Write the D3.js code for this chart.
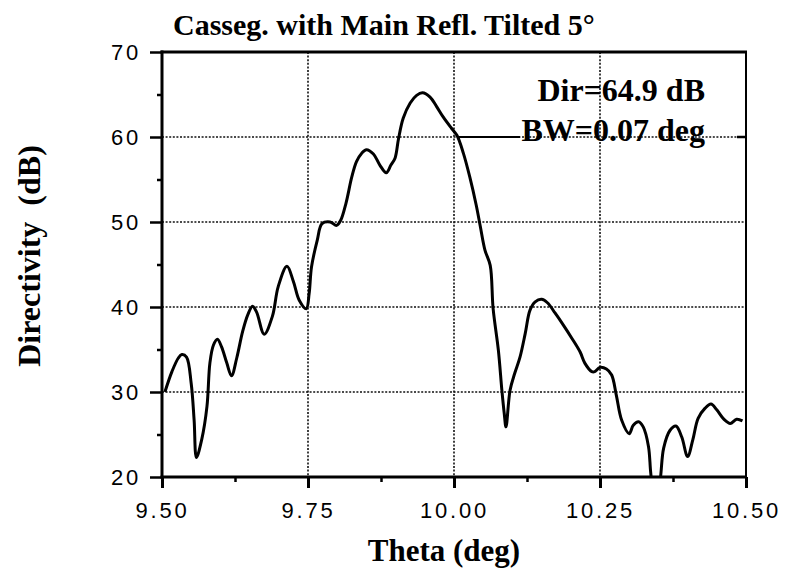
<!DOCTYPE html>
<html>
<head>
<meta charset="utf-8">
<script src="https://cdn.jsdelivr.net/npm/d3@7"></script>
<style>
  body { margin: 0; background: #fff; }
  svg { display: block; }
  .tick-label { font-family: "Liberation Sans", Arial, sans-serif; font-size: 22px; letter-spacing: 2.8px; fill: #000; }
  .serif { font-family: "Liberation Serif", "Times New Roman", serif; font-weight: bold; fill: #000; }
</style>
</head>
<body>
<svg id="chart" width="789" height="573"></svg>
<script>
// directivity pattern
var theta = [9.505, 9.517, 9.528, 9.534, 9.542, 9.550, 9.555, 9.559, 9.568, 9.577,
  9.582, 9.588, 9.595, 9.602, 9.611, 9.619, 9.628, 9.638, 9.647, 9.655,
  9.662, 9.675, 9.689, 9.699, 9.714, 9.725, 9.735, 9.747, 9.752, 9.756,
  9.766, 9.774, 9.788, 9.799, 9.806, 9.815, 9.825, 9.833, 9.842, 9.850,
  9.862, 9.873, 9.884, 9.892, 9.899, 9.905, 9.913, 9.925, 9.936, 9.946,
  9.959, 9.970, 9.982, 9.996, 10.005, 10.016, 10.027, 10.038, 10.045, 10.053,
  10.062, 10.067, 10.076, 10.082, 10.086, 10.089, 10.096, 10.104, 10.113, 10.122,
  10.130, 10.139, 10.150, 10.160, 10.173, 10.187, 10.202, 10.216, 10.224, 10.236,
  10.241, 10.250, 10.261, 10.270, 10.278, 10.287, 10.300, 10.307, 10.316, 10.324,
  10.333, 10.337, 10.342, 10.350, 10.354, 10.359, 10.370, 10.380, 10.390, 10.400,
  10.409, 10.418, 10.430, 10.440, 10.450, 10.462, 10.473, 10.484, 10.494];
var directivity = [30.0, 32.4, 34.0, 34.4, 34.1, 31.0, 26.7, 22.3, 24.4, 28.3,
  33.4, 35.5, 36.2, 35.3, 33.4, 31.9, 34.0, 37.1, 39.1, 40.1,
  39.4, 36.8, 38.9, 42.4, 44.8, 43.0, 40.8, 39.8, 41.6, 44.7,
  47.9, 49.8, 50.0, 49.6, 50.2, 52.2, 55.3, 57.1, 58.1, 58.5,
  58.0, 56.7, 55.8, 56.7, 57.5, 59.8, 62.2, 64.0, 64.9, 65.2,
  64.7, 63.6, 62.3, 61.0, 60.2, 58.1, 55.3, 52.0, 49.5, 46.7,
  44.9, 39.8, 34.9, 30.2, 27.5, 25.9, 30.2, 32.2, 34.1, 36.9,
  39.6, 40.6, 40.9, 40.5, 39.3, 37.9, 36.3, 34.7, 33.4, 32.4,
  32.4, 32.9, 32.7, 32.0, 29.6, 26.7, 25.1, 26.1, 26.5, 25.9,
  23.6, 20.4, 18.0, 18.0, 20.2, 23.4, 25.5, 26.0, 24.7, 22.4,
  24.4, 26.9, 28.1, 28.6, 27.9, 26.8, 26.3, 26.8, 26.6];

var xTicks = [9.50, 9.75, 10.00, 10.25, 10.50];
var xMinor = [9.625, 9.875, 10.125, 10.375];
var yTicks = [20, 30, 40, 50, 60, 70];
var yMinor = [25, 35, 45, 55, 65];
var xGrid = [9.75, 10.00, 10.25];
var yGrid = [30, 40, 50, 60];

var titleText = "Casseg. with Main Refl. Tilted 5°";
var xLabel = "Theta (deg)";
var yLabel = "Directivity  (dB)";
var notes = ["Dir=64.9 dB", "BW=0.07 deg"];

// plot box (window.top is read-only, so no bare "top")
var pL = 162, pR = 746, pT = 52, pB = 477;

var svg = d3.select("#chart");

var x = d3.scaleLinear().domain([9.5, 10.5]).range([pL, pR]);
var y = d3.scaleLinear().domain([20, 70]).range([pB, pT]);

svg.append("defs").append("clipPath").attr("id", "plot")
  .append("rect").attr("x", pL).attr("y", pT)
  .attr("width", pR - pL).attr("height", pB - pT);

// dotted grid
var grid = svg.append("g").attr("stroke", "#111").attr("stroke-width", 1.6)
  .attr("stroke-dasharray", "2,1.6");
grid.selectAll("line.v").data(xGrid).enter().append("line")
  .attr("x1", d => x(d)).attr("x2", d => x(d))
  .attr("y1", pT).attr("y2", pB);
grid.selectAll("line.h").data(yGrid).enter().append("line")
  .attr("x1", pL).attr("x2", pR)
  .attr("y1", d => y(d)).attr("y2", d => y(d));

// solid piece before the BW note
svg.append("line")
  .attr("x1", 458).attr("x2", 520)
  .attr("y1", y(60)).attr("y2", y(60))
  .attr("stroke", "#000").attr("stroke-width", 2.2);

// axes
var xAxis = d3.axisBottom(x).tickValues(xTicks).tickSize(11)
  .tickFormat(d3.format(".2f"));
var gx = svg.append("g").attr("transform", "translate(0," + pB + ")").call(xAxis);
gx.select(".domain").remove();
gx.selectAll(".tick line").attr("stroke-width", 3);
gx.selectAll(".tick text").attr("class", "tick-label").attr("dy", null).attr("y", 41);
svg.append("g").attr("transform", "translate(0," + pB + ")")
  .call(d3.axisBottom(x).tickValues(xMinor).tickSize(5).tickFormat(""))
  .call(g => g.select(".domain").remove())
  .selectAll("line").attr("stroke-width", 2.5);

var yAxis = d3.axisLeft(y).tickValues(yTicks).tickSize(12).tickPadding(9);
var gy = svg.append("g").attr("transform", "translate(" + pL + ",0)").call(yAxis);
gy.select(".domain").remove();
gy.selectAll(".tick line").attr("stroke-width", 2.5);
gy.selectAll(".tick text").attr("class", "tick-label");
svg.append("g").attr("transform", "translate(" + pL + ",0)")
  .call(d3.axisLeft(y).tickValues(yMinor).tickSize(5).tickFormat(""))
  .call(g => g.select(".domain").remove())
  .selectAll("line").attr("stroke-width", 2.5);

// inward tick on the right at 60
svg.append("line").attr("x1", pR - 9).attr("x2", pR)
  .attr("y1", y(60)).attr("y2", y(60))
  .attr("stroke", "#000").attr("stroke-width", 2.5);

// frame
svg.append("line").attr("x1", pL).attr("x2", pL).attr("y1", pT - 1.5).attr("y2", pB + 1.5)
  .attr("stroke", "#000").attr("stroke-width", 3);
svg.append("line").attr("x1", pL - 1.5).attr("x2", pR + 1).attr("y1", pB).attr("y2", pB)
  .attr("stroke", "#000").attr("stroke-width", 3);
svg.append("line").attr("x1", pL - 1.5).attr("x2", pR + 1).attr("y1", pT).attr("y2", pT)
  .attr("stroke", "#000").attr("stroke-width", 3);
svg.append("line").attr("x1", pR).attr("x2", pR).attr("y1", pT).attr("y2", pB)
  .attr("stroke", "#000").attr("stroke-width", 2);

// curve
var pts = theta.map((t, i) => [t, directivity[i]]);
var line = d3.line().x(d => x(d[0])).y(d => y(d[1])).curve(d3.curveCatmullRom.alpha(0.5));
svg.append("path").datum(pts)
  .attr("clip-path", "url(#plot)")
  .attr("d", line)
  .attr("fill", "none").attr("stroke", "#000")
  .attr("stroke-width", 3).attr("stroke-linejoin", "round");

// texts
svg.append("text").attr("class", "serif").attr("x", 173).attr("y", 35)
  .attr("font-size", 30).text(titleText);

svg.append("text").attr("class", "serif").attr("x", 444).attr("y", 561)
  .attr("text-anchor", "middle").attr("font-size", 31).text(xLabel);

svg.append("text").attr("class", "serif")
  .attr("transform", "translate(40,256) rotate(-90)")
  .attr("text-anchor", "middle").attr("font-size", 32)
  .style("white-space", "pre").text(yLabel);

svg.selectAll("text.note").data(notes).enter().append("text")
  .attr("class", "serif note").attr("x", 705).attr("y", (d, i) => 101 + i * 40)
  .attr("text-anchor", "end").attr("font-size", 32).text(d => d);
</script>
</body>
</html>
